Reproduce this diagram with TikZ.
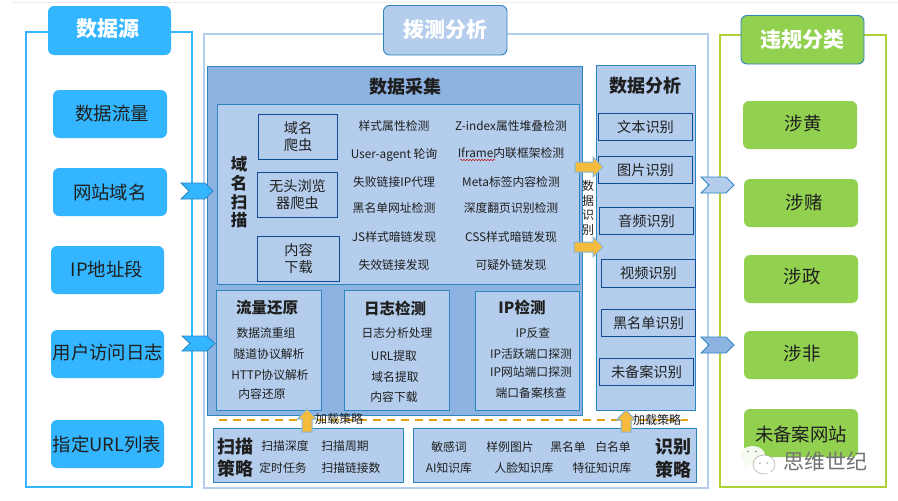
\documentclass[tikz,border=0pt]{standalone}
\usepackage{fontspec}
\setmainfont{Noto Sans CJK SC}
\usetikzlibrary{decorations.pathmorphing}
\definecolor{skyb}{HTML}{33B5FF}
\definecolor{midb}{HTML}{8DB3E2}
\definecolor{liteb}{HTML}{B4CDEC}
\definecolor{edgeb}{HTML}{2E86C1}
\definecolor{darkb}{HTML}{0F4C95}
\definecolor{grn}{HTML}{92D050}
\definecolor{lime}{HTML}{AED136}
\definecolor{gold}{HTML}{F5BB3C}
\definecolor{dashc}{HTML}{DFA414}
\tikzset{
  x=1pt,y=-1pt,
  every node/.style={inner sep=0pt,outer sep=0pt,text=black!88,align=center},
  frame/.style={line width=2.5pt,fill=white},
  headb/.style={rounded corners=6pt},
  headt/.style={font=\fontsize{21}{25}\selectfont\bfseries,text=white},
  srcbox/.style={fill=skyb,rounded corners=6pt},
  grnbox/.style={fill=grn,rounded corners=6pt},
  panel/.style={draw=edgeb,line width=1pt},
  subbox/.style={draw=darkb,line width=1pt,font=\fontsize{14.2}{17}\selectfont},
  big/.style={font=\fontsize{18.4}{22}\selectfont},
  small/.style={font=\fontsize{11.8}{14}\selectfont},
  ttl/.style={font=\fontsize{18}{22}\selectfont\bfseries},
  sub/.style={font=\fontsize{15.5}{19}\selectfont\bfseries},
  strat/.style={font=\fontsize{18}{22}\selectfont\bfseries},
  chev/.style={draw=edgeb,line width=.8pt},
  goldarrow/.style={fill=gold,draw=edgeb!60,line width=1pt},
}
% name, style, x1,y1,x2,y2, text
\newcommand\bx[7]{%
  \pgfmathsetmacro\bw{#5-#3}\pgfmathsetmacro\bh{#6-#4}%
  \pgfmathsetmacro\bcx{(#3+#5)/2}\pgfmathsetmacro\bcy{(#4+#6)/2}%
  \node[#2,minimum width=\bw pt,minimum height=\bh pt] (#1) at (\bcx,\bcy) {#7};}
% chevron: x1,x2,y1,y2,fill
\newcommand\chevron[5]{%
  \pgfmathsetmacro\cmy{(#3+#4)/2}%
  \draw[chev,fill=#5] (#1,#3) -- (#2-8,#3) -- (#2,\cmy) -- (#2-8,#4) -- (#1,#4) -- (#1+8,\cmy) -- cycle;}
% right arrow: x1,x2,cy
\newcommand\rarrow[3]{%
  \draw[goldarrow] (#1,#3-5) -- (#2-10,#3-5) -- (#2-10,#3-10) -- (#2,#3) -- (#2-10,#3+10) -- (#2-10,#3+5) -- (#1,#3+5) -- cycle;}
% up arrow: cx,ytip,ybottom
\newcommand\uarrow[3]{%
  \draw[goldarrow] (#1-5,#3) -- (#1-5,#2+10) -- (#1-9.5,#2+10) -- (#1,#2) -- (#1+9.5,#2+10) -- (#1+5,#2+10) -- (#1+5,#3) -- cycle;}
\begin{document}
\begin{tikzpicture}
\useasboundingbox (0,0) rectangle (898,501);
\fill[white] (0,0) rectangle (898,501);
\draw[black!7,line width=.8pt] (12,2) -- (898,2);
% frames
\draw[frame,draw=skyb] (26,32) rectangle (192,487);
\draw[frame,draw=liteb] (204,34) rectangle (708,488);
\draw[frame,draw=lime] (720,35) rectangle (886,487);
% headers
\bx{hsrc}{headb,fill=skyb}{48}{6}{171}{55}{}
\node[headt] (hsrct) at (108,29) {数据源};
\bx{hmid}{headb,fill=liteb,draw=edgeb,line width=.9pt}{383.5}{5.5}{507}{55}{}
\node[headt] (hmidt) at (445,30) {拨测分析};
\bx{hrgt}{headb,fill=grn,draw=edgeb,line width=.9pt}{741}{15.5}{864}{64}{}
\node[headt] (hrgtt) at (802,40) {违规分类};
% source boxes
\bx{s1}{srcbox}{53}{90}{167}{138}{}      \node[big] (s1t) at (112,114) {数据流量};
\bx{s2}{srcbox}{53}{168}{167}{216}{}     \node[big] (s2t) at (110,192) {网站域名};
\bx{s3}{srcbox}{51}{246}{164}{294}{}     \node[big] (s3t) at (107,269) {IP地址段};
\bx{s4}{srcbox}{51}{330}{164}{378}{}     \node[big] (s4t) at (108,353) {用户访问日志};
\bx{s5}{srcbox}{51}{420}{164}{468}{}     \node[big] (s5t) at (107,444) {指定URL列表};
% collection panel
\bx{cp}{panel,fill=midb}{207.5}{66}{582}{415.5}{}
\node[ttl] (cpt) at (405,87) {数据采集};
\bx{dp}{panel,fill=liteb}{217.5}{104.5}{579}{284}{}
\node[font=\fontsize{16.5}{18.7}\selectfont\bfseries] (dpt) at (239,192.5) {域\\名\\扫\\描};
\bx{d1}{subbox}{258.5}{114.5}{337.5}{159}{域名\\爬虫}
\bx{d2}{subbox}{257.5}{172.5}{337.5}{217}{无头浏览\\器爬虫}
\bx{d3}{subbox}{257.5}{236.5}{339.5}{281}{内容\\下载}
\foreach \n/\x/\y/\t in {a1/394/126/样式属性检测,a2/394/155/User-agent 轮询,a3/394/182/失败链接IP代理,a4/394/208/黑名单网址检测,a5/394/237/JS样式暗链发现,a6/394/265/失效链接发现,b1/511/126/Z-index属性堆叠检测,b2/511/153/Iframe内联框架检测,b3/511/182/Meta标签内容检测,b4/511/208/深度翻页识别检测,b5/511/237/CSS样式暗链发现,b6/511/265/可疑外链发现}
  {\node[small] (\n) at (\x,\y) {\t};}
\draw[red!80!black,line width=.5pt,decorate,decoration={snake,amplitude=.6pt,segment length=3pt}] (460,160) -- (495,160);
% lower panels
\bx{lp1}{panel,fill=liteb}{216.5}{290.5}{321}{410}{}
\bx{lp2}{panel,fill=liteb}{344.5}{290.5}{449}{410}{}
\bx{lp3}{panel,fill=liteb}{475.5}{291.5}{579}{410.5}{}
\node[sub] (l1t) at (267,307.5) {流量还原};
\node[sub] (l2t) at (395,308.5) {日志检测};
\node[sub] (l3t) at (522,307.5) {IP检测};
\foreach \n/\x/\y/\t in {c1/266/333/数据流重组,c2/269/354/隧道协议解析,c3/270/375/HTTP协议解析,c4/262/394/内容还原,e1/397/333/日志分析处理,e2/394/356/URL提取,e3/395/377/域名提取,e4/394/397/内容下载,f1/533/333/IP反查,f2/531/354/IP活跃端口探测,f3/531/372/IP网站端口探测,f4/531/393/端口备案核查}
  {\node[small] (\n) at (\x,\y) {\t};}
% analysis panel
\bx{ap}{panel,fill=liteb}{596.5}{65.5}{695.5}{410.5}{}
\node[ttl] (apt) at (645,86) {数据分析};
\bx{r1}{subbox}{598.5}{113.5}{692.5}{140.5}{文本识别}
\bx{r2}{subbox}{598.5}{156.5}{692.5}{183.5}{图片识别}
\bx{r3}{subbox}{599.5}{207.5}{693.5}{234.5}{音频识别}
\bx{r4}{subbox}{601.5}{259.5}{695.5}{287}{视频识别}
\bx{r5}{subbox}{601.5}{309.5}{695.5}{336.5}{黑名单识别}
\bx{r6}{subbox}{599.5}{358.5}{693.5}{385.5}{未备案识别}
\node[font=\fontsize{12}{14.7}\selectfont] (dr) at (588,208) {数\\据\\识\\别};
\rarrow{575}{603}{167}
\rarrow{574}{603}{247}
% dashed divider
\coordinate (dl) at (219,420);
\coordinate (dr2) at (688,420);
\draw[dashc,line width=1.5pt,dash pattern=on 8pt off 6pt] (dl) -- (dr2);
% strategy panels
\bx{sp1}{panel,fill=liteb}{213.5}{428.5}{403}{482}{}
\bx{sp2}{panel,fill=liteb}{413.5}{428.5}{696}{482.5}{}
\uarrow{307}{409}{432}
\uarrow{626}{410}{432}
\node[font=\fontsize{12}{14}\selectfont] (ld1) at (339,418.5) {加载策略};
\node[font=\fontsize{12}{14}\selectfont] (ld2) at (657,420) {加载策略};
\node[strat] (st1) at (235,447) {扫描};
\node[strat] (st2) at (235,469) {策略};
\node[strat] (st3) at (673,447) {识别};
\node[strat] (st4) at (673,470) {策略};
\foreach \n/\x/\y/\t in {g1/285/446/扫描深度,g2/345/446/扫描周期,g3/283/468/定时任务,g4/351/468/扫描链接数,h1/449/447/敏感词,h2/510/447/样例图片,h3/568/447/黑名单,h4/613/447/白名单,h5/449/468/AI知识库,h6/524/468/人脸知识库,h7/602/468/特征知识库}
  {\node[small] (\n) at (\x,\y) {\t};}
% chevrons
\chevron{181}{213}{183}{199}{skyb}
\chevron{182}{215}{336}{351}{skyb}
\chevron{701}{734}{177}{193}{liteb}
\chevron{701}{734}{337}{353}{midb}
% category boxes
\bx{v1}{grnbox}{743}{101}{857}{149}{}   \node[big] (v1t) at (803,124) {涉黄};
\bx{v2}{grnbox}{744}{179}{858}{227}{}   \node[big] (v2t) at (804,203) {涉赌};
\bx{v3}{grnbox}{744}{255}{858}{303}{}   \node[big] (v3t) at (802,277) {涉政};
\bx{v4}{grnbox}{744}{331}{858}{379}{}   \node[big] (v4t) at (802,354) {涉非};
\bx{v5}{grnbox}{744}{409}{858}{457}{}   \node[big] (v5t) at (801,434) {未备案网站};
% watermark
\fill[white!92!grn] (752.5,455.5) ellipse (12.5 and 9.5);
\fill[white!92!grn] (745,463) -- (743,469) -- (751,464) -- cycle;
\fill[white] (764,464.5) ellipse (11 and 9.5);
\draw[black!35,line width=.5pt] (764,464.5) ellipse (11 and 9.5);
\fill[white] (770,472) -- (773,476) -- (766,473) -- cycle;
\fill[black!40] (760,463) circle (.9) (767,463) circle (.9);
\fill[grn!70!black] (748,451.5) circle (.9) (756,451.5) circle (.9);
\node[font=\fontsize{21}{24}\selectfont,text=black!55] (wm) at (825,462) {思维世纪};
\end{tikzpicture}
\end{document}
